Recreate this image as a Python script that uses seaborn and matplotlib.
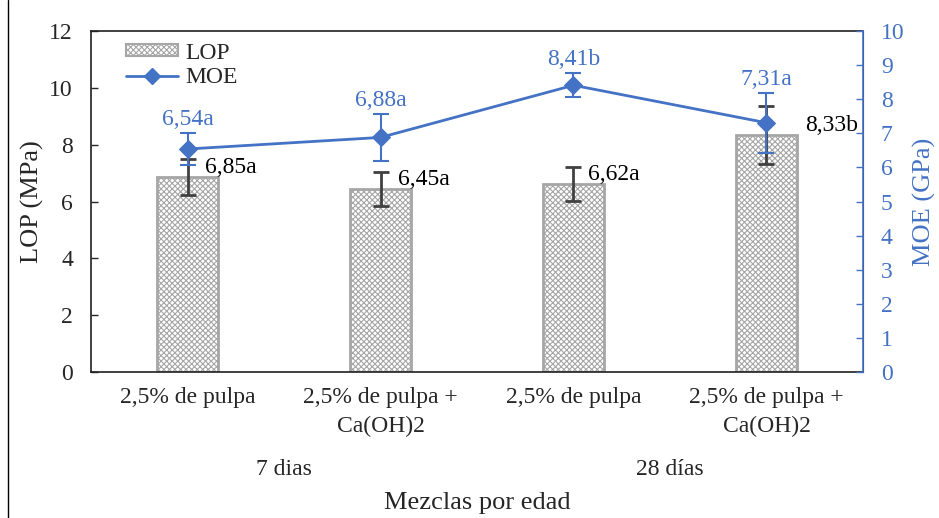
import matplotlib
matplotlib.use("Agg")
import matplotlib.pyplot as plt
import matplotlib.transforms as mtransforms
from matplotlib.patches import Patch
from matplotlib.lines import Line2D
import seaborn as sns
import pandas as pd
import numpy as np

# data
mezclas = ["2,5% de pulpa", "2,5% de pulpa +\nCa(OH)2", "2,5% de pulpa", "2,5% de pulpa +\nCa(OH)2"]
edades = ["7 dias", "28 días"]
lop = [6.85, 6.45, 6.62, 8.33]
lop_err = [0.63, 0.60, 0.61, 1.02]
lop_txt = ["6,85a", "6,45a", "6,62a", "8,33b"]
moe = [6.54, 6.88, 8.41, 7.31]
moe_err = [0.47, 0.68, 0.35, 0.88]
moe_txt = ["6,54a", "6,88a", "8,41b", "7,31a"]

sns.set_style("white")
plt.rcParams['font.family'] = ['Liberation Serif', 'DejaVu Serif']
plt.rcParams['hatch.linewidth'] = 0.8

blue = '#4472C4'
grey = '#a6a6a6'
dark = '#404040'

df = pd.DataFrame({'pos': np.arange(len(lop)), 'LOP': lop, 'MOE': moe})

fig = plt.figure(figsize=(9.39, 5.18), dpi=100)
ax = fig.add_axes([0.097, 0.282, 0.822, 0.658])

sns.barplot(data=df, x='pos', y='LOP', color='white', width=0.32, edgecolor=grey,
            linewidth=2, hatch='xxxxxx', errorbar=None, ax=ax)
ax.errorbar(df['pos'], df['LOP'], yerr=lop_err, fmt='none', ecolor=dark,
            elinewidth=2, capsize=6, capthick=2)
offs = [0.09, 0.09, 0.075, 0.2]
for i, (v, t) in enumerate(zip(lop, lop_txt)):
    ax.text(i + offs[i], v + 0.33, t, ha='left', va='center', fontsize=17, color='black')

ax.set_ylim(0, 12)
ax.set_yticks(range(0, 13, 2))
ax.set_xlim(-0.5, 3.5)
ax.set_xticks(df['pos'])
ax.set_xticklabels(mezclas, fontsize=17, linespacing=1.5)
ax.tick_params(axis='x', length=0, pad=11)
ax.tick_params(axis='y', direction='in', length=5, width=1, labelsize=17, pad=13)
ax.set_xlabel('')
ax.set_ylabel('LOP (MPa)', fontsize=19, labelpad=4)
for s in ['left', 'top', 'bottom']:
    ax.spines[s].set_color('#202020')
    ax.spines[s].set_linewidth(1.2)

ax2 = ax.twinx()
sns.lineplot(data=df, x='pos', y='MOE', color=blue, linewidth=2, marker='D',
             markersize=9, markeredgecolor=blue, ax=ax2)
ax2.errorbar(df['pos'], df['MOE'], yerr=moe_err, fmt='none', ecolor=blue,
             elinewidth=1.5, capsize=6, capthick=1.5)
for i, (v, e, t) in enumerate(zip(moe, moe_err, moe_txt)):
    ax2.text(i, v + e + 0.4, t, ha='center', va='center', fontsize=17, color=blue)
ax2.set_ylim(0, 10)
ax2.set_yticks(range(0, 11))
ax2.tick_params(axis='y', direction='in', length=5, width=1, colors=blue, labelsize=17, pad=13)
ax2.set_ylabel('MOE (GPa)', fontsize=19, color=blue, labelpad=6)
ax2.spines['right'].set_color(blue)
ax2.spines['right'].set_linewidth(1.2)
for s in ['left', 'top', 'bottom']:
    ax2.spines[s].set_visible(False)
ax2.set_xlim(-0.5, 3.5)

# group labels under the categories
trans = mtransforms.blended_transform_factory(ax.transData, ax.transAxes)
for k, g in enumerate(edades):
    ax.text(2 * k + 0.5, -0.287, g, transform=trans, ha='center', va='center', fontsize=17)
ax.text(0.5, -0.384, 'Mezclas por edad', transform=ax.transAxes, ha='center',
        va='center', fontsize=19)

handles = [Patch(facecolor='white', edgecolor=grey, hatch='xxxxxx', linewidth=1.5),
           Line2D([0], [0], color=blue, linewidth=2, marker='D', markersize=8)]
ax2.legend(handles, ['LOP', 'MOE'], loc='upper left', bbox_to_anchor=(0.03, 1.0),
           frameon=False, fontsize=17, handlelength=2.2, handleheight=0.4,
           labelspacing=0.15, borderaxespad=0.1, handletextpad=0.3)

fig.add_artist(Line2D([0.008, 0.008], [0, 1], color='black', linewidth=1))

fig.savefig('out.png', dpi=100)
